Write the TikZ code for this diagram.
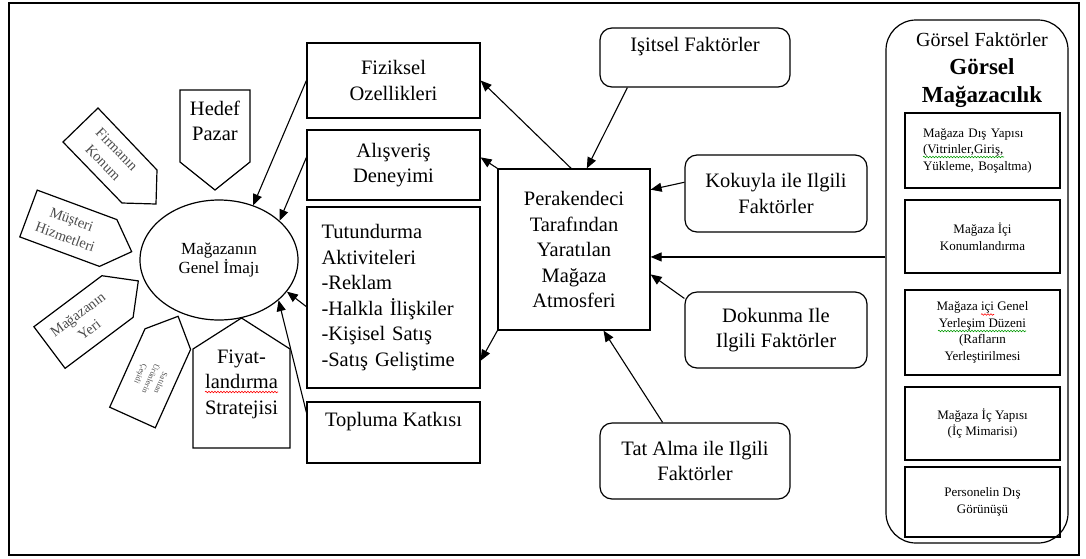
\documentclass[tikz,border=0pt]{standalone}
\usepackage{fontspec}
\setmainfont{Liberation Serif}
\usetikzlibrary{shapes,arrows.meta,decorations.pathmorphing}

\newcommand{\boxfont}{\fontsize{20.5}{25.5}\selectfont}
\newcommand{\imgfont}{\fontsize{17}{18.5}\selectfont}
\newcommand{\tagfont}{\fontsize{14.5}{19}\selectfont}
\newcommand{\subfont}{\fontsize{13}{16.5}\selectfont}
\newcommand{\titlefont}{\fontsize{20}{28}\selectfont}

\begin{document}
\begin{tikzpicture}[x=1pt,y=-1pt,line width=1.2pt,
  box/.style={draw,rectangle,align=center,inner sep=0pt,font=\boxfont},
  factor/.style={draw,rounded corners=12pt,align=center,inner sep=0pt,font=\boxfont},
  sub/.style={draw,rectangle,align=center,inner sep=0pt,minimum width=155pt,font=\subfont},
  tag/.style={align=center,inner sep=0pt,font=\tagfont,text=gray!60!black},
  arr/.style={-{Triangle[length=11pt,width=9pt]},line width=1.1pt},
  squig/.style={decorate,decoration={snake,amplitude=0.8pt,segment length=3pt},line width=0.6pt}]
      \useasboundingbox (0,0) rectangle (1086,558);
      \draw (9,3) rectangle (1079,555);
      % pentagons round the image
      \draw (180,90) -- (250,90) -- (250,162) -- (215,190) -- (180,162) -- cycle;
      \node[font=\boxfont,align=center,inner sep=0pt] (hedef) at (215,121) {Hedef\\Pazar};
      \draw (63,142) -- (98,108) -- (157,170) -- (156,204) -- (122,203) -- cycle;
      \node[tag,rotate=-46] (firma) at (110,156) {Firmanın\\Konum};
      \draw (37.2,190.1) -- (116.9,219.6) -- (131.7,251.7) -- (99.5,266.4) -- (19.8,236.9) -- cycle;
      \node[tag,rotate=-20] (musteri) at (68.4,228.2) {Müşteri\\Hizmetleri};
      \draw (33.9,326.7) -- (101.9,275.7) -- (138.3,280.9) -- (133.1,317.3) -- (65.1,368.3) -- cycle;
      \node[tag,rotate=37] (yeri) at (83.5,322) {Mağazanın\\Yeri};
      \draw (109.7,407.2) -- (145,328.8) -- (178.1,316.3) -- (190.6,349.4) -- (155.3,427.8) -- cycle;
      \node[tag,rotate=-114,font=\fontsize{8}{11}\selectfont] (cesit) at (150.2,378.3) {Satılan\\Ürünlerin\\Çeşidi};
      \draw (193,349) -- (241.5,318) -- (290,349) -- (290,448) -- (193,448) -- cycle;
      \node[font=\boxfont,align=center,inner sep=0pt] (fiyat) at (241.5,384) {Fiyat-\\landırma\\Stratejisi};
      \draw[red,squig] (205,392) -- (278,392);
      \node[draw,ellipse,fill=white,minimum width=158pt,minimum height=120pt,inner sep=0pt,align=center,font=\imgfont] (imaj) at (219,260) {Mağazanın\\Genel İmajı};
      % middle column
      \node[box,minimum width=173pt,minimum height=75pt] (fiz) at (393.5,80.5) {Fiziksel\\Ozellikleri};
      \node[box,minimum width=173pt,minimum height=70pt] (ali) at (393.5,165) {Alışveriş\\Deneyimi};
      \node[box,minimum width=173pt,minimum height=181pt,align=left,text width=144pt] (tut) at (393.5,297.5) {Tutundurma\\Aktiviteleri\\-Reklam\\-Halkla İlişkiler\\-Kişisel Satış\\-Satış Geliştime};
      \node[box,minimum width=173pt,minimum height=61pt] (top) at (393.5,432.5) {Topluma Katkısı\\~};
      \node[box,minimum width=152pt,minimum height=161pt] (per) at (574,249.5) {Perakendeci\\Tarafından\\Yaratılan\\Mağaza\\Atmosferi};
      % factors
      \node[factor,minimum width=190pt,minimum height=59pt] (isi) at (695,57.5) {Işitsel Faktörler\\~};
      \node[factor,minimum width=182pt,minimum height=77pt] (kok) at (776,193.5) {Kokuyla ile Ilgili\\Faktörler};
      \node[factor,minimum width=182pt,minimum height=76pt] (dok) at (776,330) {Dokunma Ile\\Ilgili Faktörler};
      \node[factor,minimum width=190pt,minimum height=76pt] (tat) at (695,461) {Tat Alma ile Ilgili\\Faktörler};
      % visual factors
      \node[draw,rounded corners=30pt,minimum width=182pt,minimum height=523pt,inner sep=0pt] (gorsel) at (977,281.5) {};
      \node[align=center,font=\titlefont,inner sep=0pt] (baslik) at (982,70) {Görsel Faktörler\\{\bfseries\fontsize{23}{28}\selectfont Görsel}\\{\bfseries\fontsize{23}{28}\selectfont Mağazacılık}};
      \node[sub,minimum height=75pt,align=left,text width=119pt] (dis) at (982.5,150.5) {Mağaza Dış Yapısı\\(Vitrinler,Giriş,\\Yükleme, Boşaltma)};
      \node[sub,minimum height=73pt] (ici) at (982.5,236.5) {Mağaza İçi\\Konumlandırma};
      \node[sub,minimum height=85pt] (yer) at (982.5,332.5) {Mağaza içi Genel\\Yerleşim Düzeni\\(Rafların\\Yerleştirilmesi};
      \node[sub,minimum height=73pt] (ic) at (982.5,423.5) {Mağaza İç Yapısı\\(İç Mimarisi)};
      \node[sub,minimum height=70pt] (pers) at (982.5,502) {Personelin Dış\\Görünüşü};
      \draw[green!60!black,squig] (923,157) -- (1004,157);
      \draw[green!60!black,squig] (938,331) -- (1026,331);
      \draw[red,squig] (981,314.5) -- (994,314.5);
      % arrows
      \draw[arr] (fiz.west) -- (imaj.58);
      \draw[arr] (ali.175) -- (imaj.33);
      \draw[arr] (tut.186) -- (imaj.-25);
      \draw[arr] (top.167) -- (imaj.-34);
      \draw[arr] (per.92) -- (fiz.east);
      \draw[arr] (per.north west) -- (ali.5);
      \draw[arr] (per.south west) -- (tut.-36);
      \draw[arr] (isi.-156) -- (per.81);
      \draw[arr] (kok.173) -- (per.38);
      \draw[arr] (gorsel.165) -- (gorsel.165 -| per.east);
      \draw[arr] (dok.161) -- (per.-18.5);
      \draw[arr] (tat.130) -- (per.-70);
\end{tikzpicture}
\end{document}
